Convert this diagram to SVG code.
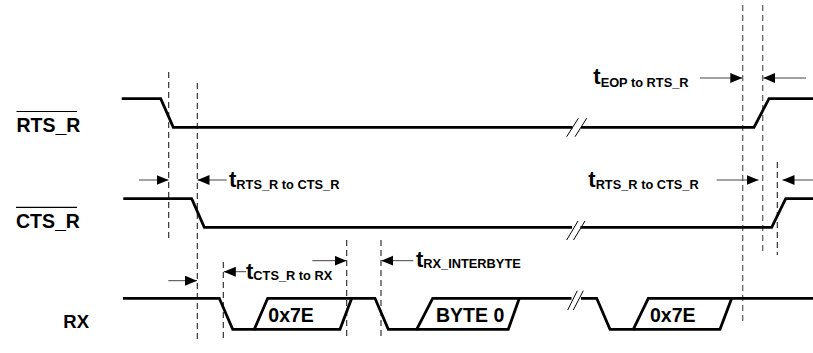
<svg xmlns="http://www.w3.org/2000/svg" width="813" height="353" viewBox="0 0 813 353">
<style>
.sig{fill:none;stroke:#000;stroke-width:2.8;stroke-linejoin:miter}
.brk{fill:none;stroke:#000;stroke-width:1}
.dash{fill:none;stroke:#222;stroke-width:1.1;stroke-dasharray:6,4}
.dashg{fill:none;stroke:#666;stroke-width:1.3;stroke-dasharray:6,4}
.arr{fill:none;stroke:#444;stroke-width:1;marker-end:url(#ah)}
.lbl{font-family:"Liberation Sans",Arial,sans-serif;font-weight:bold;fill:#000}
.big{font-size:22px}
.sub{font-size:12.8px}
.box{font-size:19.5px}
.ovl{stroke:#000;stroke-width:1.2}
</style>
<defs>
<marker id="ah" markerUnits="userSpaceOnUse" markerWidth="13" markerHeight="11" refX="12" refY="5" orient="auto">
<path d="M0,0 L12,5 L0,10 Z" fill="#000"/>
</marker>
</defs>
<g id="guides">
<line class="dash" x1="168.7" y1="72" x2="168.7" y2="242"/>
<line class="dash" x1="197.3" y1="83" x2="197.3" y2="340"/>
<line class="dash" x1="223.3" y1="262" x2="223.3" y2="338"/>
<line class="dash" x1="346.7" y1="240" x2="346.7" y2="340"/>
<line class="dash" x1="381" y1="240" x2="381" y2="340"/>
<line class="dashg" x1="742.7" y1="5" x2="742.7" y2="325"/>
<line class="dashg" x1="762.7" y1="5" x2="762.7" y2="255"/>
<line class="dash" x1="777.3" y1="162" x2="777.3" y2="255"/>
</g>
<g id="RTS_R">
<text class="lbl" x="16.5" y="131.5" font-size="19.5">RTS_R</text>
<line class="ovl" x1="16.5" y1="111.5" x2="77" y2="111.5"/>
<path class="sig" d="M121.7,98.7 H160.7 L173.3,127.3 H572.5"/>
<path class="sig" d="M581,127.3 H754 L769,98.7 H813"/>
<line class="brk" x1="566.7" y1="136.7" x2="578.3" y2="118.3"/>
<line class="brk" x1="575" y1="136.7" x2="586.7" y2="118.3"/>
</g>
<g id="CTS_R">
<text class="lbl" x="16" y="228.3" font-size="19.5">CTS_R</text>
<line class="ovl" x1="16" y1="207.3" x2="77" y2="207.3"/>
<path class="sig" d="M123.3,198.7 H191.7 L204.3,227.3 H572"/>
<path class="sig" d="M580.5,227.3 H771.7 L785.7,198.7 H813"/>
<line class="brk" x1="566.7" y1="240" x2="578" y2="221"/>
<line class="brk" x1="573.5" y1="240" x2="585" y2="221"/>
</g>
<g id="RX">
<text class="lbl" x="63.3" y="328.3" font-size="18.5">RX</text>
<path class="sig" d="M123,298.3 H219.3 L232.7,329.3 H254.3 L267.7,298.3 H375 L388.3,329.3 H416.7 L432.7,298.3 H571.5"/>
<path class="sig" d="M254.3,329.3 H340 L351.7,298.3"/>
<path class="sig" d="M416.7,329.3 H508.3 L519.3,298.3"/>
<path class="sig" d="M581,298.3 H596.7 L610,329.3 H633.3 L648.3,298.3 H813"/>
<path class="sig" d="M633.3,329.3 H720 L731.7,298.3"/>
<line class="brk" x1="567.7" y1="310" x2="577.3" y2="290.7"/>
<line class="brk" x1="573.3" y1="310" x2="583.3" y2="290.7"/>
<text class="lbl box" x="268.3" y="321.7">0x7E</text>
<text class="lbl box" x="436" y="321.7">BYTE 0</text>
<text class="lbl box" x="650" y="321.7">0x7E</text>
</g>
<g id="connectors">
<line class="arr" x1="139" y1="180" x2="168.5" y2="180"/>
<line class="arr" x1="226.7" y1="180" x2="197.5" y2="180"/>
<line class="arr" x1="168.3" y1="280.7" x2="197" y2="280.7"/>
<line class="arr" x1="246" y1="271.7" x2="223.8" y2="271.7"/>
<line class="arr" x1="312.3" y1="260.7" x2="346.5" y2="260.7"/>
<line class="arr" x1="413.3" y1="260.7" x2="381.3" y2="260.7"/>
<line class="arr" x1="700" y1="78" x2="742.3" y2="78"/>
<line class="arr" x1="806" y1="78" x2="763.3" y2="78"/>
<line class="arr" x1="716.7" y1="180" x2="758.5" y2="180"/>
<line class="arr" x1="813" y1="180" x2="782.5" y2="180"/>
</g>
<g id="labels">
<text class="lbl" x="593.3" y="83.5"><tspan class="big">t</tspan><tspan class="sub" dy="3.5">EOP to RTS_R</tspan></text>
<text class="lbl" x="229" y="186.5"><tspan class="big">t</tspan><tspan class="sub" dy="2">RTS_R to CTS_R</tspan></text>
<text class="lbl" x="588.3" y="187"><tspan class="big">t</tspan><tspan class="sub" dy="2">RTS_R to CTS_R</tspan></text>
<text class="lbl" x="246" y="278.5"><tspan class="big">t</tspan><tspan class="sub" dy="1">CTS_R to RX</tspan></text>
<text class="lbl" x="416" y="266.5"><tspan class="big">t</tspan><tspan class="sub" dy="1">RX_INTERBYTE</tspan></text>
</g>
</svg>
